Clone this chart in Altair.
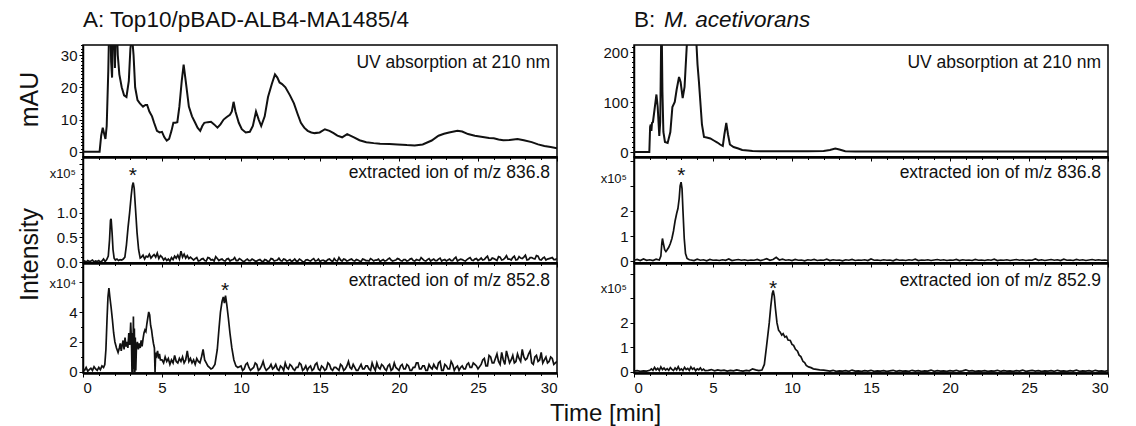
import altair as alt
import pandas as pd

FONT = "Liberation Sans"
INK = "#111111"
W = 474
H1, H2, H3 = 112, 106, 110
GAP = 77

# ---------------- data ----------------
# A: UV absorption at 210 nm (mAU)
uv_a_t = [0, 1.05, 1.15, 1.25, 1.32, 1.42, 1.5, 1.6, 1.66, 1.72,
          1.78, 1.84, 1.9, 1.96, 2.02, 2.08, 2.14, 2.2, 2.3, 2.45,
          2.6, 2.75, 2.9, 3.0, 3.1, 3.2, 3.3, 3.45, 3.6, 3.8,
          3.95, 4.06, 4.2, 4.37, 4.5, 4.68, 4.85, 5.0, 5.15, 5.3,
          5.45, 5.6, 5.72, 5.85, 5.97, 6.1, 6.25, 6.37, 6.5, 6.7,
          6.9, 7.1, 7.25, 7.42, 7.55, 7.68, 7.9, 8.1, 8.3, 8.51,
          8.7, 8.9, 9.1, 9.3, 9.42, 9.53, 9.65, 9.86, 10.05, 10.3,
          10.56, 10.75, 10.95, 11.12, 11.28, 11.5, 11.71, 11.95, 12.15, 12.3,
          12.44, 12.6, 12.81, 13.1, 13.35, 13.6, 13.79, 14.0, 14.22, 14.45,
          14.66, 14.98, 15.31, 15.6, 15.86, 16.1, 16.4, 16.72, 17.15, 17.5,
          17.93, 18.4, 18.8, 19.4, 19.9, 20.5, 20.99, 21.5, 22.07, 22.5,
          22.85, 23.17, 23.7, 24.0, 24.37, 24.8, 25.3, 25.7, 26.0, 26.3,
          26.6, 27.0, 27.5, 27.9, 28.4, 28.8, 29.2, 29.6, 30.0]
uv_a_v = [0, 0, 5, 7.5, 6, 4, 8, 25, 40, 45,
          28, 23, 40, 42, 26, 38, 40, 30, 24, 20,
          17.5, 17, 22, 32, 36, 30, 20, 16, 15, 14,
          14.5, 14.5, 12.5, 11, 9, 6.5, 6, 6.2, 4.5, 3.5,
          4, 6.5, 9, 9, 9.2, 14, 22, 27, 22, 14,
          11, 9, 7.5, 6.5, 8, 9, 9.2, 9.3, 8.5, 7.5,
          8.5, 10, 10.8, 11.5, 12.5, 15.5, 12.5, 9, 7, 6,
          6.2, 8, 12.5, 10, 8, 11, 17, 21, 24, 23,
          21.5, 21, 20, 17.5, 15, 11.5, 9, 7.5, 6.5, 6,
          5.8, 6, 7, 6.5, 5.8, 5, 4.5, 5.5, 4.5, 3.6,
          3, 2.7, 2.5, 2.4, 2.3, 2.1, 2, 2.3, 3.5, 5,
          5.6, 6, 6.5, 6.3, 5.5, 5, 4.6, 4.3, 4.2, 3.8,
          3.6, 3.7, 4, 3.6, 3, 2.3, 1.8, 1.5, 1.1]

# B: UV absorption at 210 nm (mAU)
uv_b_t = [0, 0.97, 1.02, 1.06, 1.1, 1.14, 1.2, 1.3, 1.42, 1.5,
          1.6, 1.66, 1.72, 1.76, 1.8, 1.86, 1.96, 2.13, 2.3, 2.43,
          2.58, 2.7, 2.85, 2.95, 3.08, 3.2, 3.37, 3.6, 3.93, 4.02,
          4.11, 4.2, 4.3, 4.43, 4.6, 4.83, 5.05, 5.28, 5.45, 5.62,
          5.72, 5.84, 5.95, 6.07, 6.3, 6.6, 6.85, 7.2, 7.5, 8,
          9, 10, 11, 12, 12.4, 12.74, 13.0, 13.37, 14, 16,
          18, 20, 22, 24, 26, 28, 30]
uv_b_v = [0, 0, 50, 55, 42, 58, 60, 85, 115, 90,
          32, 60, 230, 230, 120, 40, 20, 18, 40, 90,
          100, 125, 150, 140, 108, 130, 230, 230, 230, 175,
          140, 100, 55, 30, 29, 27, 23, 19, 15, 12,
          35, 58, 35, 15, 10, 7, 4, 3, 2, 1.5,
          1.5, 1.5, 1.5, 2, 4, 7, 5, 1.5, 1, 0.8,
          0.8, 0.8, 0.8, 0.8, 0.8, 0.8, 0.8]

# A: extracted ion m/z 836.8 (x10^5)
a836_base = [0.01, 0.02, 0.0, 0.03, 0.01, 0.02, 0.04, 0.0, 0.02, 0.01,
             0.03, 0.0, 0.02, 0.06, 0.01, 0.05]                      # 0.0 .. 1.5, step 0.1
a836_peak_t = [1.6, 1.68, 1.74, 1.78, 1.84, 1.9, 1.97, 2.05, 2.15, 2.25,
               2.35, 2.45, 2.55, 2.65, 2.75, 2.85, 2.95, 3.05, 3.12, 3.18,
               3.24, 3.32, 3.42, 3.52, 3.62, 3.7]
a836_peak_v = [0.12, 0.45, 0.85, 0.88, 0.6, 0.25, 0.08, 0.04, 0.06, 0.03,
               0.05, 0.04, 0.06, 0.1, 0.35, 0.7, 1.0, 1.35, 1.55, 1.62,
               1.5, 1.1, 0.6, 0.25, 0.08, 0.1]
a836_mid = [0.14, 0.06, 0.12, 0.1, 0.16, 0.08, 0.12, 0.15, 0.1, 0.18,
            0.07, 0.13, 0.1, 0.04, 0.08, 0.03, 0.06, 0.02, 0.09, 0.05,
            0.12, 0.08, 0.14, 0.06, 0.22, 0.1, 0.16, 0.08, 0.13, 0.07,
            0.1]                                                     # 3.8 .. 6.8, step 0.1
a836_tail = [0.04, 0.09, 0.03, 0.07, 0.02, 0.08, 0.05, 0.11, 0.03, 0.06,
             0.02, 0.07, 0.04, 0.09, 0.03, 0.05, 0.01, 0.06, 0.03, 0.04,
             0.02, 0.05, 0.0, 0.04, 0.02, 0.06, 0.03, 0.08, 0.02, 0.05,
             0.03, 0.01, 0.06, 0.02, 0.04, 0.0, 0.05, 0.02, 0.07, 0.03,
             0.01, 0.04, 0.02, 0.06, 0.01, 0.03, 0.09, 0.02, 0.05, 0.03,
             0.06, 0.02, 0.04, 0.01, 0.05, 0.03, 0.07, 0.02, 0.04, 0.01,
             0.05, 0.03, 0.08, 0.02, 0.04, 0.06, 0.02, 0.05, 0.03, 0.07,
             0.02, 0.04, 0.09, 0.03, 0.05, 0.02, 0.06, 0.03, 0.08, 0.04,
             0.02, 0.06, 0.03, 0.1, 0.04, 0.05, 0.02, 0.07, 0.04, 0.06,
             0.03, 0.08, 0.05, 0.12, 0.04, 0.07, 0.03, 0.1, 0.05, 0.13,
             0.06, 0.09, 0.04, 0.11, 0.07, 0.14, 0.05, 0.09, 0.06, 0.12,
             0.04, 0.1, 0.06, 0.08, 0.05, 0.07]                      # 7.0 .. 30.0, step 0.2
a836_tail_b = [0.07, 0.02, 0.06, 0.03, 0.09, 0.04, 0.02, 0.07, 0.05, 0.03,
               0.06, 0.02, 0.05, 0.03, 0.07, 0.02, 0.04, 0.03, 0.06, 0.02,
               0.04, 0.02, 0.05, 0.01, 0.07, 0.02, 0.04, 0.03, 0.06, 0.02,
               0.05, 0.03, 0.02, 0.06, 0.01, 0.04, 0.03, 0.05, 0.02, 0.06,
               0.03, 0.02, 0.05, 0.03, 0.07, 0.02, 0.04, 0.06, 0.02, 0.05,
               0.03, 0.05, 0.02, 0.06, 0.03, 0.02, 0.05, 0.04, 0.06, 0.03,
               0.02, 0.06, 0.04, 0.03, 0.07, 0.03, 0.05, 0.02, 0.06, 0.03,
               0.05, 0.03, 0.06, 0.02, 0.07, 0.04, 0.03, 0.06, 0.02, 0.05,
               0.04, 0.03, 0.07, 0.02, 0.06, 0.03, 0.05, 0.09, 0.03, 0.07,
               0.05, 0.04, 0.09, 0.03, 0.08, 0.05, 0.11, 0.04, 0.08, 0.06,
               0.04, 0.12, 0.05, 0.08, 0.1, 0.04, 0.09, 0.07, 0.13, 0.05,
               0.08, 0.04, 0.07, 0.09, 0.05]                         # 7.1 .. 29.9, step 0.2

# A: extracted ion m/z 852.8 (x10^4)
a852_base = [0.2, 0.1, 0.3, 0.05, 0.15, 0.25, 0.1, 0.35, 0.2, 0.1,
             0.3, 0.15, 0.4, 0.3]                                    # 0.0 .. 1.3, step 0.1
a852_pk1_t = [1.38, 1.45, 1.52, 1.58, 1.64, 1.7, 1.78, 1.86, 1.94, 2.02, 2.12, 2.22]
a852_pk1_v = [0.5, 1.5, 3.5, 5.0, 5.6, 5.0, 4.3, 3.5, 2.6, 2.0, 1.6, 1.3]
a852_band_t = [2.3, 2.36, 2.42, 2.48, 2.54, 2.6, 2.66, 2.72, 2.78, 2.84,
               2.9, 2.96, 3.02, 3.07, 3.1, 3.13, 3.16, 3.19, 3.22, 3.25,
               3.28, 3.31, 3.34, 3.38, 3.44, 3.5, 3.56, 3.62, 3.68, 3.74,
               3.8, 3.86, 3.92, 3.98, 4.04, 4.1, 4.16, 4.22, 4.28, 4.34,
               4.4, 4.46, 4.52, 4.56, 4.6, 4.66, 4.72, 4.78, 4.84, 4.9]
a852_band_v = [1.6, 1.9, 1.4, 1.8, 2.1, 1.5, 2.3, 1.7, 2.0, 1.6,
               2.6, 1.8, 3.3, 1.9, 0.0, 2.6, 0.0, 3.7, 0.2, 2.9,
               0.0, 2.3, 0.1, 1.6, 2.0, 1.5, 1.9, 1.6, 2.1, 1.7,
               2.2, 2.6, 2.8, 2.7, 3.2, 3.6, 4.0, 3.8, 3.1, 2.8,
               2.3, 1.9, 1.6, 0.0, 1.3, 1.1, 1.4, 0.9, 1.2, 0.8]
a852_mid = [0.8, 0.6, 1.0, 0.7, 0.9, 0.5, 0.8, 0.6, 1.1, 0.7,
            0.6, 0.9, 0.7, 1.0, 0.6, 0.8, 1.4, 0.7, 0.9, 0.6,
            0.8, 0.5, 0.9, 0.7, 0.6, 1.0, 1.5, 0.8, 0.6, 0.4,
            0.3, 0.2, 0.25]                                          # 5.0 .. 8.2, step 0.1
a852_pk2_t = [8.35, 8.5, 8.6, 8.7, 8.8, 8.88, 8.95, 9.02, 9.1, 9.2, 9.3, 9.42, 9.55, 9.68, 9.8]
a852_pk2_v = [0.5, 1.5, 2.8, 4.0, 4.7, 5.0, 4.6, 5.1, 4.5, 3.6, 2.6, 1.6, 0.8, 0.4, 0.3]
a852_tail1 = [0.4, 0.2, 0.6, 0.1, 0.3, 0.5, 0.2, 0.7, 0.1, 0.3,
              0.2, 0.5, 0.1, 0.3, 0.6, 0.2, 0.4, 0.1, 0.3, 0.5,
              0.2, 0.1, 0.4, 0.2, 0.6, 0.1, 0.3, 0.2, 0.5, 0.1,
              0.3, 0.1, 0.4, 0.2, 0.7, 0.2, 0.3, 0.1, 0.5, 0.2,
              0.4, 0.1, 0.3, 0.6, 0.2, 0.4, 0.1, 0.5, 0.2, 0.3,
              0.1, 0.5, 0.2, 0.4, 0.1, 0.3, 0.6, 0.2, 0.4, 0.1,
              0.3, 0.5, 0.2, 0.7, 0.1, 0.4, 0.2, 0.5, 0.3, 0.1,
              0.4, 0.2, 0.6, 0.3, 0.5, 0.2]                          # 10.0 .. 25.0, step 0.2
a852_tail1_b = [0.1, 0.5, 0.3, 0.2, 0.6, 0.1, 0.4, 0.3, 0.2, 0.5,
                0.3, 0.2, 0.4, 0.1, 0.3, 0.5, 0.2, 0.3, 0.6, 0.1,
                0.4, 0.3, 0.1, 0.5, 0.2, 0.4, 0.1, 0.6, 0.2, 0.3,
                0.2, 0.5, 0.1, 0.4, 0.3, 0.5, 0.1, 0.3, 0.2, 0.4,
                0.2, 0.6, 0.1, 0.3, 0.5, 0.2, 0.4, 0.1, 0.6, 0.2,
                0.4, 0.2, 0.5, 0.1, 0.3, 0.6, 0.2, 0.4, 0.1, 0.5,
                0.2, 0.3, 0.6, 0.1, 0.5, 0.2, 0.7, 0.1, 0.4, 0.3,
                0.2, 0.5, 0.3, 0.6, 0.4]                             # 10.1 .. 24.9, step 0.2
a852_tail2 = [0.5, 0.9, 0.4, 1.0, 0.6, 1.2, 0.5, 0.8, 1.4, 0.6,
              1.1, 0.7, 0.9, 1.5, 0.8, 1.2, 0.6, 1.0, 0.7, 1.3,
              0.8, 0.6, 1.0, 0.5, 0.7]                               # 25.2 .. 30.0, step 0.2
a852_tail2_b = [0.8, 0.4, 1.1, 0.6, 0.9, 0.7, 1.3, 0.5, 1.0, 0.8,
                0.6, 1.2, 0.7, 1.0, 0.9, 1.4, 0.5, 1.1, 0.8, 0.6,
                1.0, 0.7, 0.9, 0.6]                                  # 25.3 .. 29.9, step 0.2

# B: extracted ion m/z 836.8 (x10^5)
b836_base = [0.03, 0.06, 0.02, 0.08, 0.03, 0.05, 0.02, 0.07, 0.04]  # 0.0 .. 1.6, step 0.2
b836_peak_t = [1.7, 1.76, 1.8, 1.86, 1.94, 2.02, 2.1, 2.2, 2.3, 2.4,
               2.5, 2.6, 2.7, 2.78, 2.86, 2.92, 2.98, 3.04, 3.1, 3.18,
               3.26, 3.36, 3.5]
b836_peak_v = [0.2, 0.7, 0.9, 0.7, 0.45, 0.38, 0.45, 0.55, 0.7, 0.9,
               1.2, 1.6, 1.9, 2.1, 2.5, 3.0, 3.15, 2.9, 2.0, 0.9,
               0.3, 0.1, 0.05]
b836_tail = [0.04, 0.02, 0.07, 0.03, 0.05, 0.01, 0.06, 0.03, 0.04, 0.02,
             0.05, 0.03, 0.08, 0.02, 0.04, 0.06, 0.03, 0.05, 0.02, 0.04,
             0.03, 0.06, 0.02, 0.05, 0.09, 0.03, 0.06, 0.15, 0.04, 0.07,
             0.03, 0.05, 0.02, 0.06, 0.03, 0.04, 0.01, 0.05, 0.03, 0.06,
             0.02, 0.04, 0.03, 0.07, 0.02, 0.05, 0.03, 0.04, 0.01, 0.05,
             0.03, 0.06, 0.02, 0.04, 0.03, 0.05, 0.02, 0.08, 0.03, 0.04,
             0.02, 0.05, 0.03, 0.04, 0.01, 0.06, 0.03, 0.04, 0.02, 0.05,
             0.03, 0.07, 0.02, 0.04, 0.03, 0.05, 0.02, 0.04, 0.06, 0.03,
             0.05, 0.02, 0.04, 0.03, 0.06, 0.02, 0.05, 0.03, 0.04, 0.02,
             0.06, 0.03, 0.04, 0.02, 0.05, 0.03, 0.07, 0.02, 0.04, 0.03,
             0.05, 0.02, 0.04, 0.06, 0.03, 0.05, 0.02, 0.04, 0.03, 0.08,
             0.03, 0.05, 0.02, 0.04, 0.06, 0.03, 0.05, 0.02, 0.07, 0.03,
             0.04, 0.02, 0.06, 0.03, 0.05, 0.02, 0.04, 0.06, 0.03, 0.05,
             0.03, 0.04, 0.02]                                       # 3.6 .. 30.0, step 0.2

# B: extracted ion m/z 852.9 (x10^5)
b852_base = [0.03, 0.05, 0.02, 0.04, 0.03, 0.06]                    # 0.0 .. 1.0, step 0.2
b852_elev = [0.12, 0.06, 0.18, 0.08, 0.14, 0.05, 0.2, 0.09, 0.15, 0.07,
             0.13, 0.06, 0.17, 0.1, 0.05, 0.16, 0.08, 0.21, 0.07, 0.12,
             0.05, 0.18, 0.09, 0.14, 0.06, 0.2, 0.1, 0.15, 0.04, 0.12,
             0.08, 0.16, 0.06, 0.11, 0.05]                           # 1.1 .. 4.5, step 0.1
b852_mid = [0.06, 0.09, 0.04, 0.08, 0.05, 0.07, 0.03, 0.06, 0.04, 0.08,
            0.05, 0.03, 0.06, 0.04, 0.12, 0.08, 0.05, 0.07]          # 4.7 .. 8.1, step 0.2
b852_peak_t = [8.25, 8.38, 8.47, 8.56, 8.66, 8.75, 8.81, 8.88, 8.95, 9.05,
               9.15, 9.25, 9.35, 9.44, 9.55, 9.65, 9.75, 9.89, 10.0, 10.1,
               10.22, 10.35, 10.45, 10.56, 10.7, 10.8, 10.9, 11.05, 11.2, 11.35,
               11.55, 11.75, 12.0]
b852_peak_v = [0.3, 1.0, 1.5, 2.0, 2.7, 3.2, 3.33, 3.1, 2.6, 2.0,
               1.7, 1.62, 1.5, 1.56, 1.42, 1.45, 1.3, 1.28, 1.12, 1.08,
               0.92, 0.84, 0.68, 0.62, 0.42, 0.38, 0.26, 0.2, 0.17, 0.12,
               0.1, 0.08, 0.07]
b852_tail = [0.05, 0.03, 0.06, 0.02, 0.04, 0.03, 0.05, 0.02, 0.07, 0.03,
             0.04, 0.02, 0.05, 0.03, 0.06, 0.02, 0.04, 0.03, 0.05, 0.02,
             0.04, 0.06, 0.02, 0.05, 0.03, 0.04, 0.02, 0.06, 0.03, 0.05,
             0.02, 0.04, 0.03, 0.07, 0.02, 0.05, 0.03, 0.04, 0.02, 0.05,
             0.03, 0.06, 0.02, 0.04, 0.08, 0.03, 0.05, 0.02, 0.04, 0.03,
             0.05, 0.02, 0.04, 0.03, 0.06, 0.02, 0.05, 0.03, 0.04, 0.02,
             0.05, 0.03, 0.07, 0.02, 0.04, 0.06, 0.03, 0.05, 0.02, 0.04,
             0.03, 0.05, 0.02, 0.06, 0.03, 0.04, 0.02, 0.05, 0.03, 0.07,
             0.02, 0.04, 0.03, 0.05, 0.02, 0.06, 0.03, 0.04, 0.02, 0.05]  # 12.2 .. 30.0, step 0.2

# annotation texts / markers
title_a = "A: Top10/pBAD-ALB4-MA1485/4"
title_b_prefix = "B:"
title_b_species = "M. acetivorans"
labels_a = ["UV absorption at 210 nm", "extracted ion of m/z 836.8", "extracted ion of m/z 852.8"]
labels_b = ["UV absorption at 210 nm", "extracted ion of m/z 836.8", "extracted ion of m/z 852.9"]
stars_a = [None, (3.15, 1.85), (9.0, 5.74)]
stars_b = [None, (3.0, 3.6), (8.8, 3.59)]
mult_a = [None, "x10\u2075", "x10\u2074"]
mult_b = [None, "x10\u2075", "x10\u2075"]


# ---------------- helpers ----------------
def grid(start, step, vals):
    return [round(start + step * i, 3) for i in range(len(vals))], list(vals)


def frame(*pieces):
    ts, vs = [], []
    for t, v in pieces:
        ts += list(t)
        vs += list(v)
    return pd.DataFrame({"t": ts, "v": vs}).sort_values("t").reset_index(drop=True)


df_uv_a = frame((uv_a_t, uv_a_v))
df_uv_b = frame((uv_b_t, uv_b_v))
df_a836 = frame(grid(0.0, 0.1, a836_base), (a836_peak_t, a836_peak_v),
                grid(3.8, 0.1, a836_mid), grid(7.0, 0.2, a836_tail),
                grid(7.1, 0.2, a836_tail_b))
df_a852 = frame(grid(0.0, 0.1, a852_base), (a852_pk1_t, a852_pk1_v),
                (a852_band_t, a852_band_v), grid(5.0, 0.1, a852_mid),
                (a852_pk2_t, a852_pk2_v), grid(10.0, 0.2, a852_tail1),
                grid(10.1, 0.2, a852_tail1_b), grid(25.2, 0.2, a852_tail2),
                grid(25.3, 0.2, a852_tail2_b))
df_b836 = frame(grid(0.0, 0.2, b836_base), (b836_peak_t, b836_peak_v),
                grid(3.6, 0.2, b836_tail))
df_b852 = frame(grid(0.0, 0.2, b852_base), grid(1.1, 0.1, b852_elev),
                grid(4.7, 0.2, b852_mid), (b852_peak_t, b852_peak_v),
                grid(12.2, 0.2, b852_tail))


def cond(test, a, b):
    return {"condition": {"test": test, "value": a}, "value": b}


def panel(df, sw, h, ydom, yvals, lab_test, maj_test, fmt, label, label_y, star,
          mult, mult_y, bottom, ytitle=None, ytitle_y=None, xtitle=None, header=None):
    xscale = alt.Scale(domain=[0, 30], nice=False, zero=False)
    yscale = alt.Scale(domain=ydom, nice=False, zero=False)

    xax = dict(values=list(range(31)),
               tickSize=cond("datum.value % 5 === 0", 4, 2.5),
               domainWidth=2.5, labelPadding=3, labelFontSize=15)
    if bottom:
        xax["labelExpr"] = "datum.value % 5 === 0 ? datum.label : ''"
    else:
        xax["labels"] = False
    if xtitle:
        xax.update(title=xtitle, titleX=522, titleY=40, titleAlign="center",
                   titleBaseline="middle", titleFontSize=24, titleFontWeight="normal",
                   titleColor=INK, titleFont=FONT)
    else:
        xax["title"] = None

    yax = dict(values=yvals, format=fmt,
               labelExpr=f"({lab_test}) ? datum.label : ''",
               tickSize=cond(maj_test, 4, 2.5),
               domainWidth=1.5, labelPadding=2, labelFontSize=15)
    if ytitle:
        yax.update(title=ytitle, titleX=-54, titleY=ytitle_y, titleAngle=270,
                   titleAlign="center", titleBaseline="middle", titleFontSize=25,
                   titleFontWeight="normal", titleColor=INK, titleFont=FONT)
    else:
        yax["title"] = None

    X = alt.X("t:Q", scale=xscale, axis=alt.Axis(**xax))
    Y = alt.Y("v:Q", scale=yscale, axis=alt.Axis(**yax))

    layers = [
        alt.Chart(df).mark_line(color=INK, strokeWidth=sw, clip=True).encode(x=X, y=Y),
        alt.Chart(pd.DataFrame({"s": [label]})).mark_text(
            align="right", baseline="middle", fontSize=17.5, font=FONT, color=INK
        ).encode(x=alt.value(W - 7), y=alt.value(label_y), text="s:N"),
    ]
    if star:
        layers.append(
            alt.Chart(pd.DataFrame({"t": [star[0]], "v": [star[1]], "s": ["*"]})).mark_text(
                fontSize=21, font=FONT, color=INK, baseline="middle", dy=5
            ).encode(x=X, y=Y, text="s:N"))
    if mult:
        layers.append(
            alt.Chart(pd.DataFrame({"s": [mult]})).mark_text(
                align="right", baseline="middle", fontSize=13, font=FONT, color=INK
            ).encode(x=alt.value(-7), y=alt.value(mult_y), text="s:N"))
    if header:
        for txt, xoff, style in header:
            layers.append(
                alt.Chart(pd.DataFrame({"s": [txt]})).mark_text(
                    align="left", baseline="alphabetic", fontSize=22.5, font=FONT,
                    color=INK, fontStyle=style
                ).encode(x=alt.value(xoff), y=alt.value(-18), text="s:N"))
    return alt.layer(*layers).properties(width=W, height=h)


A1 = panel(df_uv_a, 2.0, H1, [-1.6, 33.1], list(range(0, 34)),
           "datum.value % 10 === 0", "datum.value % 10 === 0", "d",
           labels_a[0], 18, stars_a[0], mult_a[0], 20, False, ytitle="mAU", ytitle_y=54,
           header=[(title_a, 0, "normal")])
A2 = panel(df_a836, 1.7, H2, [-0.02, 2.14], [round(0.1 * i, 1) for i in range(22)],
           "abs(datum.value*2 - round(datum.value*2)) < 0.01 && datum.value < 1.05",
           "abs(datum.value*2 - round(datum.value*2)) < 0.01", ".1f",
           labels_a[1], 16, stars_a[1], mult_a[1], 17, False)
A3 = panel(df_a852, 1.7, H3, [-0.07, 7.27], list(range(0, 8)),
           "datum.value % 2 === 0 && datum.value < 5", "datum.value % 2 === 0", "d",
           labels_a[2], 18, stars_a[2], mult_a[2], 21, True, ytitle="Intensity", ytitle_y=-9,
           xtitle="Time [min]")

B1 = panel(df_uv_b, 2.0, H1, [-10, 214], list(range(0, 220, 10)),
           "datum.value % 100 === 0", "datum.value % 50 === 0", "d",
           labels_b[0], 18, stars_b[0], mult_b[0], 20, False,
           header=[(title_b_prefix, 0, "normal"), (title_b_species, 30, "italic")])
B2 = panel(df_b836, 1.7, H2, [-0.08, 4.16], [0, 1, 2, 3, 4],
           "datum.value < 2.5", "true", "d",
           labels_b[1], 16, stars_b[1], mult_b[1], 22, False)
B3 = panel(df_b852, 1.7, H3, [-0.05, 4.45], [0, 1, 2, 3, 4],
           "datum.value < 2.5", "true", "d",
           labels_b[2], 18, stars_b[2], mult_b[2], 26, True)

chart = (
    alt.concat(A1, B1, A2, B2, A3, B3, columns=2, bounds="flush",
               spacing={"row": 0, "column": GAP})
    .properties(padding={"left": 8, "top": 0, "right": 5, "bottom": 5})
    .configure_view(stroke="black", strokeWidth=1.5)
    .configure_axis(labelFont=FONT, labelColor=INK, tickColor="black",
                    domainColor="black", grid=False, tickWidth=1,
                    titleFont=FONT, titleColor=INK)
)

chart.save("out.html", embed_options={"renderer": "svg", "actions": False})
